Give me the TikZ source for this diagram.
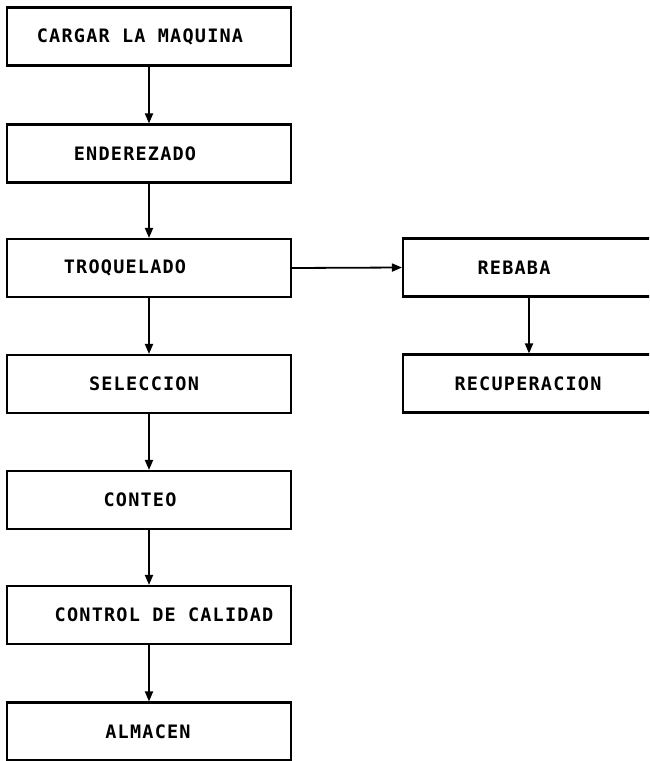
\documentclass[tikz,border=0pt]{standalone}
\usepackage{fontspec}
\newfontfamily\boxfont[LetterSpace=6.5]{DejaVu Sans Mono}
\usetikzlibrary{arrows.meta}
\tikzset{
  boxtext/.style={font=\boxfont\fontsize{18.5}{19}\selectfont\bfseries},
  stage/.style={draw, line width=2.1pt, minimum width=284pt, minimum height=58pt,
    inner sep=0pt, boxtext},
  side/.style={stage, minimum width=252pt},
  txt/.style={boxtext, xshift=#1},
  flow/.style={line width=1.8pt, -{Triangle[length=10pt,width=8pt]}},
}
\begin{document}
\begin{tikzpicture}[x=1pt, y=-1pt]
  \clip (0,0) rectangle (649,761);
  \fill[white] (0,0) rectangle (649,761);
  % main production line
  \node[stage, label={[txt=-9pt]center:CARGAR LA MAQUINA}] (carga) at (149,36.5) {};
  \node[stage, label={[txt=-14pt]center:ENDEREZADO}] (ender) at (149,153.5) {};
  \node[stage, label={[txt=-24pt]center:TROQUELADO}] (troq) at (149,268) {};
  \node[stage, label={[txt=-5pt]center:SELECCION}] (selec) at (149,384) {};
  \node[stage, label={[txt=-9pt]center:CONTEO}] (conteo) at (149,500) {};
  \node[stage, label={[txt=15pt]center:CONTROL DE CALIDAD}] (calidad) at (149,615) {};
  \node[stage, label={[txt=-1pt]center:ALMACEN}] (almacen) at (149,731.5) {};
  % scrap branch
  \node[side, label={[txt=-15pt]center:REBABA}] (rebaba) at (529,267.5) {};
  \node[side, label={[txt=-1pt]center:RECUPERACION}] (recup) at (529,383.5) {};
  % connectors
  \draw[flow] (carga) -- (ender);
  \draw[flow] (ender) -- (troq);
  \draw[flow] (troq) -- (selec);
  \draw[flow] (selec) -- (conteo);
  \draw[flow] (conteo) -- (calidad);
  \draw[flow] (calidad) -- (almacen);
  \draw[flow] (troq.east) -- (rebaba.west);
  \draw[flow] (rebaba) -- (recup);
\end{tikzpicture}
\end{document}
